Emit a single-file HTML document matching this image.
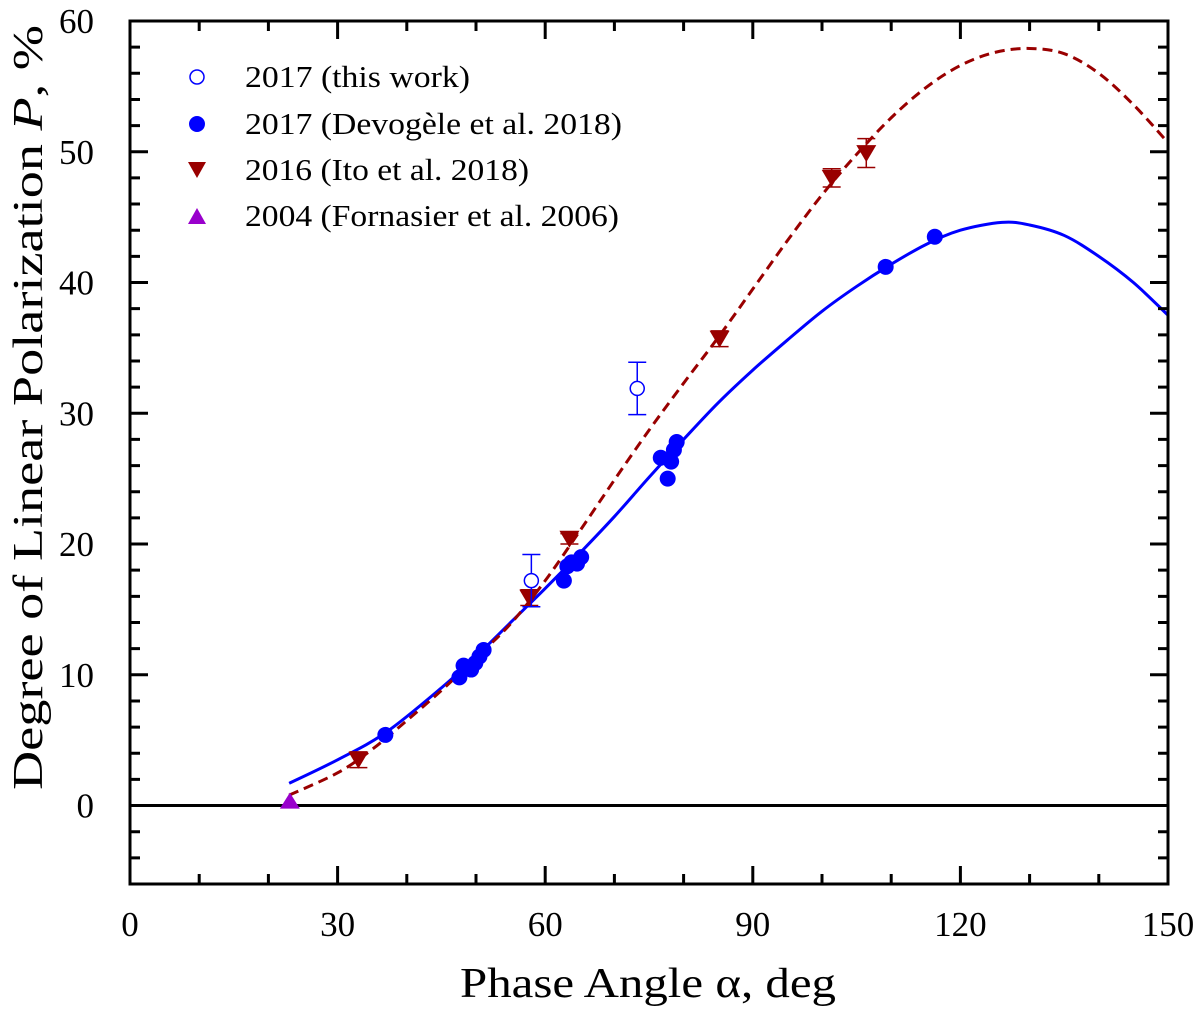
<!DOCTYPE html>
<html><head><meta charset="utf-8"><style>
html,body{margin:0;padding:0;background:#fff;}
svg, svg text{font-family:"Liberation Serif","Times New Roman",Times,serif;}
svg{display:block;}
</style></head><body>
<svg id="chart" width="1200" height="1012" viewBox="0 0 1200 1012" xmlns="http://www.w3.org/2000/svg" font-family="Liberation Serif, Times New Roman, serif">
<g id="curves"></g>
<g id="marks"></g>
<g id="axes"></g>
<text transform="translate(42,790) rotate(-90)" font-size="42" textLength="765" lengthAdjust="spacingAndGlyphs">Degree of Linear Polarization <tspan font-style="italic">P</tspan>, %</text>
<text x="460" y="997" font-size="42" textLength="376" lengthAdjust="spacingAndGlyphs">Phase Angle α, deg</text>
<g font-size="31">
 <g><circle cx="197" cy="77" r="7" fill="none" stroke="#0000ff" stroke-width="1.5"/><text x="245" y="87" textLength="225" lengthAdjust="spacingAndGlyphs">2017 (this work)</text></g>
 <g><circle cx="197" cy="124" r="8" fill="#0000ff"/><text x="245" y="134" textLength="377" lengthAdjust="spacingAndGlyphs">2017 (Devogèle et al. 2018)</text></g>
 <g><path d="M188,162 L206,162 L197,178 Z" fill="#990000"/><text x="245" y="180" textLength="284" lengthAdjust="spacingAndGlyphs">2016 (Ito et al. 2018)</text></g>
 <g><path d="M188,224 L206,224 L197,208 Z" fill="#9900cc"/><text x="245" y="226" textLength="374" lengthAdjust="spacingAndGlyphs">2004 (Fornasier et al. 2006)</text></g>
</g>
</svg>
<script>
const devAlpha=[36.9,47.6,48.2,49.3,49.9,50.5,51.1,62.7,63.2,63.8,64.6,65.2,76.7,77.7,78.2,78.6,79.0,109.2,116.3];
const devP=[5.4,9.8,10.7,10.4,10.9,11.4,11.9,17.2,18.3,18.6,18.5,19.0,26.6,25.0,26.3,27.2,27.8,41.2,43.5];
const thisAlpha=[58.0,73.3];
const thisP=[17.2,31.9];
const thisErr=[2.0,2.0];
const itoAlpha=[33.0,57.7,63.5,85.2,101.4,106.4];
const itoP=[3.5,15.9,20.4,35.7,48.0,49.9];
const itoErr=[0.6,0.6,0.4,0.6,0.7,1.1];
const fornAlpha=[23.1];
const fornP=[0.3];
const blueA=[23,30,37,45,50,55,60,65,70,75,80,85,90,95,100,105,110,115,120,126,130,135,140,145,150];
const blueP=[1.7,3.5,5.6,9.0,11.4,14.0,16.6,19.3,22.1,25.1,28.0,30.8,33.3,35.6,37.8,39.7,41.4,42.9,44.0,44.6,44.4,43.6,42.0,40.0,37.5];
const redA=[23,30,35,40,45,50,55,60,65,70,75,80,85,90,95,100,105,110,115,120,125,130,135,140,145,150];
const redP=[0.8,2.5,4.3,6.5,8.8,11.3,13.9,17.2,21.0,24.9,28.7,32.3,35.8,39.5,43.2,46.7,49.8,52.6,54.9,56.6,57.6,57.9,57.5,56.0,53.6,50.7];
const xTicks=[0,30,60,90,120,150];
const yTicks=[0,10,20,30,40,50,60];

const X0=130,X1=1168,Y0=884,Y1=21,XMIN=0,XMAX=150,YMIN=-6,YMAX=60;
const sx=a=>X0+(a-XMIN)/(XMAX-XMIN)*(X1-X0);
const sy=p=>Y0-(p-YMIN)/(YMAX-YMIN)*(Y0-Y1);
const NS='http://www.w3.org/2000/svg';
function mk(tag,attrs,parent){const e=document.createElementNS(NS,tag);for(const k in attrs)e.setAttribute(k,attrs[k]);parent.appendChild(e);return e;}
function smooth(xs,ys){const pts=xs.map((a,i)=>[sx(a),sy(ys[i])]);let d='M'+pts[0][0]+','+pts[0][1];
 for(let i=0;i<pts.length-1;i++){const p0=pts[i-1]||pts[i],p1=pts[i],p2=pts[i+1],p3=pts[i+2]||p2;
 d+=' C'+(p1[0]+(p2[0]-p0[0])/6)+','+(p1[1]+(p2[1]-p0[1])/6)+' '+(p2[0]-(p3[0]-p1[0])/6)+','+(p2[1]-(p3[1]-p1[1])/6)+' '+p2[0]+','+p2[1];}return d;}
const curves=document.getElementById('curves'),marks=document.getElementById('marks'),axes=document.getElementById('axes');
let el;
el=mk('path',{d:'M'+X0+','+sy(0)+' L'+X1+','+sy(0),stroke:'#000','stroke-width':3},curves);


el=mk('path',{d:smooth(blueA,blueP),fill:'none',stroke:'#0000ff','stroke-width':3},curves);


el=mk('path',{d:smooth(redA,redP),fill:'none',stroke:'#990000','stroke-width':3,'stroke-dasharray':'10,6'},curves);


devAlpha.forEach((a,i)=>{el=mk('circle',{cx:sx(a),cy:sy(devP[i]),r:8,fill:'#0000ff'},marks);

});
itoAlpha.forEach((a,i)=>{const x=sx(a),y=sy(itoP[i]),e1=sy(itoP[i]-itoErr[i]),e2=sy(itoP[i]+itoErr[i]);
el=mk('path',{d:`M${x},${e1} L${x},${e2} M${x-9},${e1} L${x+9},${e1} M${x-9},${e2} L${x+9},${e2}`,stroke:'#990000','stroke-width':1.5},marks);


el=mk('path',{d:`M${x-10},${y-8} L${x+10},${y-8} L${x},${y+9} Z`,fill:'#990000'},marks);

});
fornAlpha.forEach((a,i)=>{const x=sx(a),y=sy(fornP[i]);
el=mk('path',{d:`M${x-10},${y+7} L${x+10},${y+7} L${x},${y-9} Z`,fill:'#9900cc'},marks);

});
thisAlpha.forEach((a,i)=>{const x=sx(a),y=sy(thisP[i]),e1=sy(thisP[i]-thisErr[i]),e2=sy(thisP[i]+thisErr[i]);
el=mk('path',{d:`M${x},${e1} L${x},${y+7} M${x},${y-7} L${x},${e2} M${x-9},${e1} L${x+9},${e1} M${x-9},${e2} L${x+9},${e2}`,stroke:'#0000ff','stroke-width':1.5},marks);


el=mk('circle',{cx:x,cy:y,r:7,fill:'none',stroke:'#0000ff','stroke-width':1.5},marks);

});
el=mk('rect',{x:X0,y:Y1,width:X1-X0,height:Y0-Y1,fill:'none',stroke:'#000','stroke-width':3},axes);


let td='';
for(let a=10;a<150;a+=10){const x=sx(a),L=(a%30===0)?18:10;td+=`M${x},${Y0} L${x},${Y0-L} M${x},${Y1} L${x},${Y1+L} `;}
for(let p=-4;p<60;p+=2){const y=sy(p),L=(p%10===0)?18:10;td+=`M${X0},${y} L${X0+L},${y} M${X1},${y} L${X1-L},${y} `;}
el=mk('path',{d:td,stroke:'#000','stroke-width':3},axes);


xTicks.forEach(t=>{el=mk('text',{x:sx(t),y:Y0+52,'font-size':35,'text-anchor':'middle'},axes);el.textContent=t;

});
yTicks.forEach(t=>{el=mk('text',{x:X0-36,y:sy(t)+12,'font-size':35,'text-anchor':'end'},axes);el.textContent=t;

});
</script>
</body></html>
